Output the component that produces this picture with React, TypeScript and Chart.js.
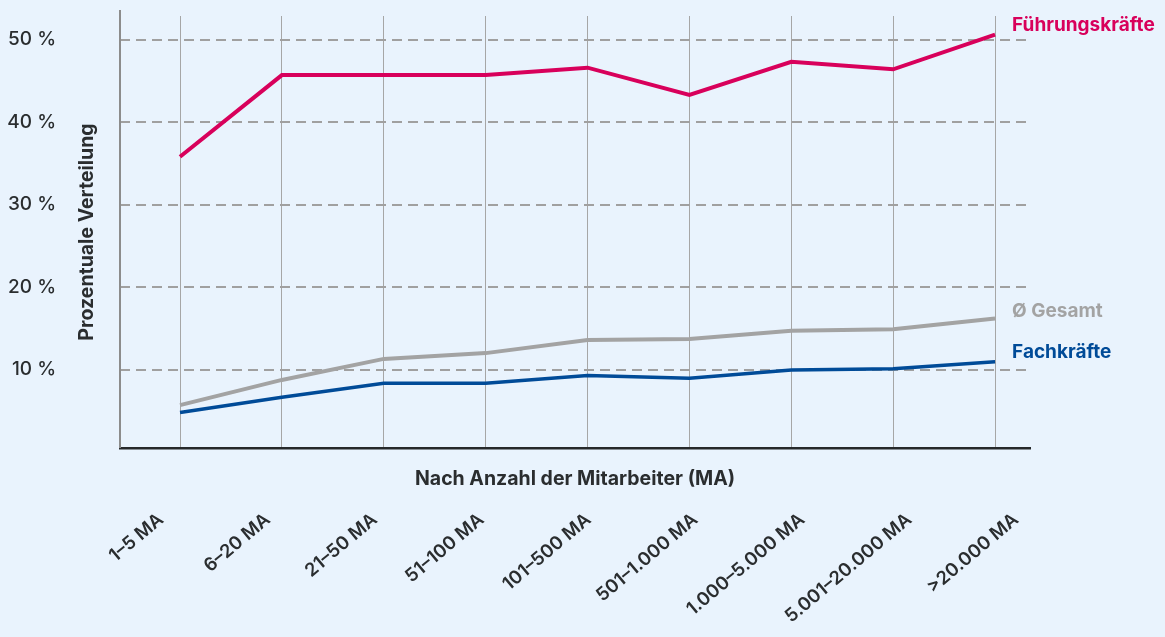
import { useEffect, useRef } from "react";
import { Chart, registerables } from "chart.js";
Chart.register(...registerables);

const categories = [
  "1–5 MA",
  "6–20 MA",
  "21–50 MA",
  "51–100 MA",
  "101–500 MA",
  "501–1.000 MA",
  "1.000–5.000 MA",
  "5.001–20.000 MA",
  ">20.000 MA",
];
const fuehrungskraefte = [35.8, 45.7, 45.7, 45.7, 46.6, 43.3, 47.3, 46.4, 50.6];
const gesamt = [5.7, 8.75, 11.3, 12.0, 13.6, 13.7, 14.7, 14.9, 16.2];
const fachkraefte = [4.8, 6.65, 8.35, 8.35, 9.3, 8.95, 9.95, 10.1, 10.95];
const yTicks = [10, 20, 30, 40, 50];
const seriesNames = ["Führungskräfte", "Ø Gesamt", "Fachkräfte"];
const seriesColors = ["#d8005b", "#a3a3a3", "#004b98"];
const labelOffsetsY = [-9, -7, -10];
const xTitle = "Nach Anzahl der Mitarbeiter (MA)";
const yTitle = "Prozentuale Verteilung";

const FONT = "Inter, Lato, sans-serif";
const TEXT = "#2a2d2f";
const BG = "#e9f3fd";

export default function App() {
  const ref = useRef<HTMLCanvasElement>(null);
  useEffect(() => {
    document.body.style.margin = "0";
    document.body.style.background = BG;
    const toPts = (arr: number[]) => arr.map((v, i) => ({ x: i, y: v }));
    const decor = {
      id: "decor",
      beforeDatasetsDraw(chart: any) {
        const { ctx, chartArea } = chart;
        ctx.save();
        ctx.strokeStyle = "#8c8c8c";
        ctx.lineWidth = 2;
        ctx.beginPath();
        ctx.moveTo(chartArea.left, chartArea.top - 6);
        ctx.lineTo(chartArea.left, chartArea.bottom);
        ctx.stroke();
        ctx.restore();
      },
      afterDraw(chart: any) {
        const { ctx, chartArea } = chart;
        const xs = chart.scales.x;
        ctx.save();
        ctx.fillStyle = TEXT;
        ctx.font = `bold 19.5px ${FONT}`;
        ctx.textAlign = "center";
        ctx.textBaseline = "middle";
        ctx.fillText(xTitle, (chartArea.left + chartArea.right) / 2, chartArea.bottom + 31);
        ctx.save();
        ctx.translate(chartArea.left - 33, (chartArea.top + chartArea.bottom) / 2);
        ctx.rotate(-Math.PI / 2);
        ctx.fillText(yTitle, 0, 0);
        ctx.restore();
        // category labels
        ctx.font = `600 18.5px ${FONT}`;
        ctx.textAlign = "right";
        ctx.textBaseline = "top";
        categories.forEach((lab, i) => {
          const px = xs.getPixelForValue(i) - 25 + 5 * i;
          ctx.save();
          ctx.translate(px, chartArea.bottom + 62);
          ctx.rotate((-40 * Math.PI) / 180);
          ctx.fillText(lab, 0, 0);
          ctx.restore();
        });
        ctx.textAlign = "left";
        ctx.textBaseline = "middle";
        ctx.font = `bold 19px ${FONT}`;
        seriesNames.forEach((name, i) => {
          const meta = chart.getDatasetMeta(i);
          const last = meta.data[meta.data.length - 1];
          ctx.fillStyle = seriesColors[i];
          ctx.fillText(name, last.x + 17, last.y + labelOffsetsY[i]);
        });
        ctx.restore();
      },
    };
    const chart = new Chart(ref.current!, {
      type: "line",
      data: {
        datasets: [
          { label: seriesNames[0], data: toPts(fuehrungskraefte), borderColor: seriesColors[0], borderWidth: 4 },
          { label: seriesNames[1], data: toPts(gesamt), borderColor: seriesColors[1], borderWidth: 4 },
          { label: seriesNames[2], data: toPts(fachkraefte), borderColor: seriesColors[2], borderWidth: 3.5 },
        ],
      },
      plugins: [decor],
      options: {
        animation: false,
        responsive: false,
        devicePixelRatio: 1,
        layout: { padding: { top: 16, right: 135, left: 0, bottom: 0 } },
        elements: { point: { radius: 0 }, line: { tension: 0 } },
        plugins: { legend: { display: false }, tooltip: { enabled: false } },
        scales: {
          x: {
            type: "linear",
            min: -0.589,
            max: 8.343,
            afterBuildTicks: (s: any) => {
              s.ticks = categories.map((_, i) => ({ value: i }));
            },
            afterFit: (s: any) => {
              s.height = 189;
              s.paddingLeft = 0;
              s.paddingRight = 0;
            },
            grid: { color: "#a6a6a6", lineWidth: 1, drawTicks: false },
            border: { display: true, color: "#25282a", width: 2.5 },
            ticks: { display: false },
          },
          y: {
            type: "linear",
            min: 0.5,
            max: 52.86,
            afterBuildTicks: (s: any) => {
              s.ticks = yTicks.map((v) => ({ value: v }));
            },
            afterFit: (s: any) => {
              s.width = 120;
              s.paddingTop = 0;
              s.paddingBottom = 0;
            },
            grid: { color: "#a0a0a0", lineWidth: 2, drawTicks: false },
            border: { display: false, dash: [10, 6] },
            ticks: {
              padding: 64,
              color: TEXT,
              font: { family: FONT, size: 19, weight: 500 },
              callback: (v: any) => `${v} %`,
            },
          },
        },
      },
    } as any);
    return () => chart.destroy();
  }, []);
  return (
    <div style={{ width: 1165, height: 637, background: BG }}>
      <canvas ref={ref} width={1165} height={637} />
    </div>
  );
}
